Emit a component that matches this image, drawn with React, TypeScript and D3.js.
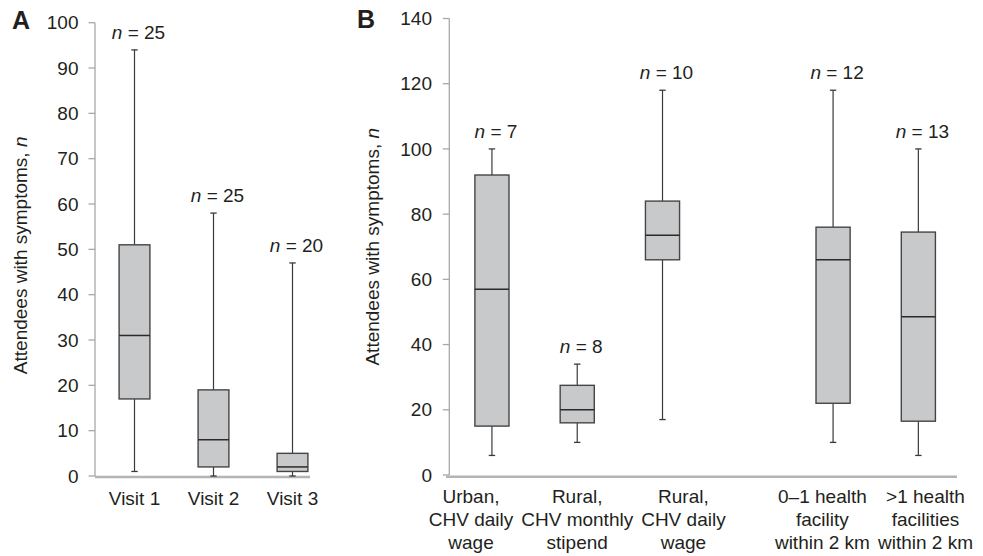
import React from 'react';
import * as d3 from 'd3';

// ---------- Data ----------
const visitCategories = ['Visit 1', 'Visit 2', 'Visit 3'];
const visitN = [25, 25, 20];
const visitMin = [1, 0, 0];
const visitQ1 = [17, 2, 1];
const visitMedian = [31, 8, 2];
const visitQ3 = [51, 19, 5];
const visitMax = [94, 58, 47];
const visitTicks = [0, 10, 20, 30, 40, 50, 60, 70, 80, 90, 100];

const groupKeys = ['urbanDaily', 'ruralMonthly', 'ruralDaily', 'few', 'many'];
const groupLabels = [
  ['Urban,', 'CHV daily', 'wage'],
  ['Rural,', 'CHV monthly', 'stipend'],
  ['Rural,', 'CHV daily', 'wage'],
  ['0–1 health', 'facility', 'within 2 km'],
  ['>1 health', 'facilities', 'within 2 km'],
];
const groupN = [7, 8, 10, 12, 13];
const groupMin = [6, 10, 17, 10, 6];
const groupQ1 = [15, 16, 66, 22, 16.5];
const groupMedian = [57, 20, 73.5, 66, 48.5];
const groupQ3 = [92, 27.5, 84, 76, 74.5];
const groupMax = [100, 34, 118, 118, 100];
const groupTicks = [0, 20, 40, 60, 80, 100, 120, 140];

// ---------- Style ----------
const FONT = '"Liberation Sans", Arial, Helvetica, sans-serif';
const FS = 19;
const TEXT = '#231f20';
const AXIS = '#a8a8a8';
const BASE = '#b4b4b4';
const BOX_FILL = '#c8c9cb';
const BOX_STROKE = '#454545';
const WHISKER = '#3a3a3a';

function measure(text: string): number {
  if (typeof document === 'undefined') return text.length * FS * 0.5;
  const c = document.createElement('canvas');
  const ctx = c.getContext('2d');
  if (!ctx) return text.length * FS * 0.5;
  ctx.font = `${FS}px ${FONT}`;
  return ctx.measureText(text).width;
}

type BoxProps = {
  cx: number; w: number; y: d3.ScaleLinear<number, number>;
  min: number; q1: number; med: number; q3: number; max: number; n: number;
};

function Box({ cx, w, y, min, q1, med, q3, max, n }: BoxProps) {
  const cap = 3.2;
  return (
    <g>
      <line x1={cx} x2={cx} y1={y(max)} y2={y(q3)} stroke={WHISKER} strokeWidth={1.2} />
      <line x1={cx} x2={cx} y1={y(q1)} y2={y(min)} stroke={WHISKER} strokeWidth={1.2} />
      <line x1={cx - cap} x2={cx + cap} y1={y(max)} y2={y(max)} stroke={WHISKER} strokeWidth={1.3} />
      <line x1={cx - cap} x2={cx + cap} y1={y(min)} y2={y(min)} stroke={WHISKER} strokeWidth={1.3} />
      <rect x={cx - w / 2} y={y(q3)} width={w} height={y(q1) - y(q3)} fill={BOX_FILL} stroke={BOX_STROKE} strokeWidth={1.4} />
      <line x1={cx - w / 2} x2={cx + w / 2} y1={y(med)} y2={y(med)} stroke={'#2a2a2a'} strokeWidth={1.5} />
      <text x={cx + 4} y={y(max) - 11} textAnchor="middle" fontSize={FS} fill={TEXT}>
        <tspan fontStyle="italic">n</tspan> = {n}
      </text>
    </g>
  );
}

function YAxis({ x, y, ticks, labelX }: { x: number; y: d3.ScaleLinear<number, number>; ticks: number[]; labelX: number }) {
  const [lo, hi] = y.domain();
  return (
    <g>
      <line x1={x} x2={x} y1={y(hi)} y2={y(lo)} stroke={AXIS} strokeWidth={1.3} />
      {ticks.map((t) => (
        <g key={t}>
          <line x1={x - 6.5} x2={x} y1={y(t)} y2={y(t)} stroke={AXIS} strokeWidth={1.3} />
          <text x={labelX} y={y(t)} dy="0.35em" textAnchor="end" fontSize={FS} fill={TEXT}>{t}</text>
        </g>
      ))}
    </g>
  );
}

function YTitle({ x, cy }: { x: number; cy: number }) {
  return (
    <text transform={`translate(${x},${cy}) rotate(-90)`} textAnchor="middle" fontSize={FS} fill={TEXT}>
      Attendees with symptoms, <tspan fontStyle="italic">n</tspan>
    </text>
  );
}

export default function App() {
  const W = 983, H = 556;

  // Panel A
  const yA = d3.scaleLinear().domain([0, 100]).range([476, 22.7]);
  const xA = d3.scaleBand<string>().domain(visitCategories).range([95, 332]).padding(0);
  const boxWA = xA.bandwidth() * 0.39;

  // Panel B
  const yB = d3.scaleLinear().domain([0, 140]).range([475, 18.5]);
  const bDomain = [...groupKeys.slice(0, 3), 'spacer', ...groupKeys.slice(3)];
  const xB = d3.scaleBand<string>().domain(bDomain).range([449.3, 961]).padding(0);
  const boxWB = xB.bandwidth() * 0.4;

  // Label layout for panel B: resolve overlaps (wider label stays, narrower moves)
  const centers = groupKeys.map((k) => (xB(k) as number) + xB.bandwidth() / 2);
  const widths = groupLabels.map((lines) => Math.max(...lines.map(measure)));
  const pos = centers.slice();
  const gap = 8;
  for (let i = 0; i < pos.length - 1; i++) {
    const overlap = pos[i] + widths[i] / 2 + gap - (pos[i + 1] - widths[i + 1] / 2);
    if (overlap > 0) {
      if (Math.abs(widths[i] - widths[i + 1]) < 2) {
        pos[i] -= overlap * 0.6;
        pos[i + 1] += overlap * 0.4;
      } else if (widths[i] < widths[i + 1]) {
        pos[i] -= overlap;
      } else {
        pos[i + 1] += overlap;
      }
    }
  }

  return (
    <svg width={W} height={H} style={{ position: 'absolute', left: 0, top: 0, background: '#fff' }} fontFamily={FONT}>
      {/* Panel A */}
      <text x={12} y={29} fontSize={25} fontWeight="bold" fill={TEXT}>A</text>
      <YTitle x={27} cy={(yA(0) + yA(100)) / 2 + 6} />
      <YAxis x={95} y={yA} ticks={visitTicks} labelX={78.5} />
      <line x1={95} x2={310} y1={477} y2={477} stroke={BASE} strokeWidth={2.6} />
      {visitCategories.map((c, i) => {
        const cx = (xA(c) as number) + xA.bandwidth() / 2;
        return (
          <g key={c}>
            <Box cx={cx} w={boxWA} y={yA} min={visitMin[i]} q1={visitQ1[i]} med={visitMedian[i]} q3={visitQ3[i]} max={visitMax[i]} n={visitN[i]} />
            <text x={cx} y={505} textAnchor="middle" fontSize={FS} fill={TEXT}>{c}</text>
          </g>
        );
      })}

      {/* Panel B */}
      <text x={357} y={28} fontSize={25} fontWeight="bold" fill={TEXT}>B</text>
      <YTitle x={378.5} cy={(yB(0) + yB(140)) / 2} />
      <YAxis x={449.3} y={yB} ticks={groupTicks} labelX={432} />
      <line x1={446} x2={957} y1={476.7} y2={476.7} stroke={BASE} strokeWidth={2.6} />
      {groupKeys.map((k, i) => {
        const cx = centers[i];
        return (
          <g key={k}>
            <Box cx={cx} w={boxWB} y={yB} min={groupMin[i]} q1={groupQ1[i]} med={groupMedian[i]} q3={groupQ3[i]} max={groupMax[i]} n={groupN[i]} />
            <text textAnchor="middle" fontSize={FS} fill={TEXT}>
              {groupLabels[i].map((l, j) => (
                <tspan key={j} x={pos[i]} y={502.5 + j * 23.2}>{l}</tspan>
              ))}
            </text>
          </g>
        );
      })}
    </svg>
  );
}
